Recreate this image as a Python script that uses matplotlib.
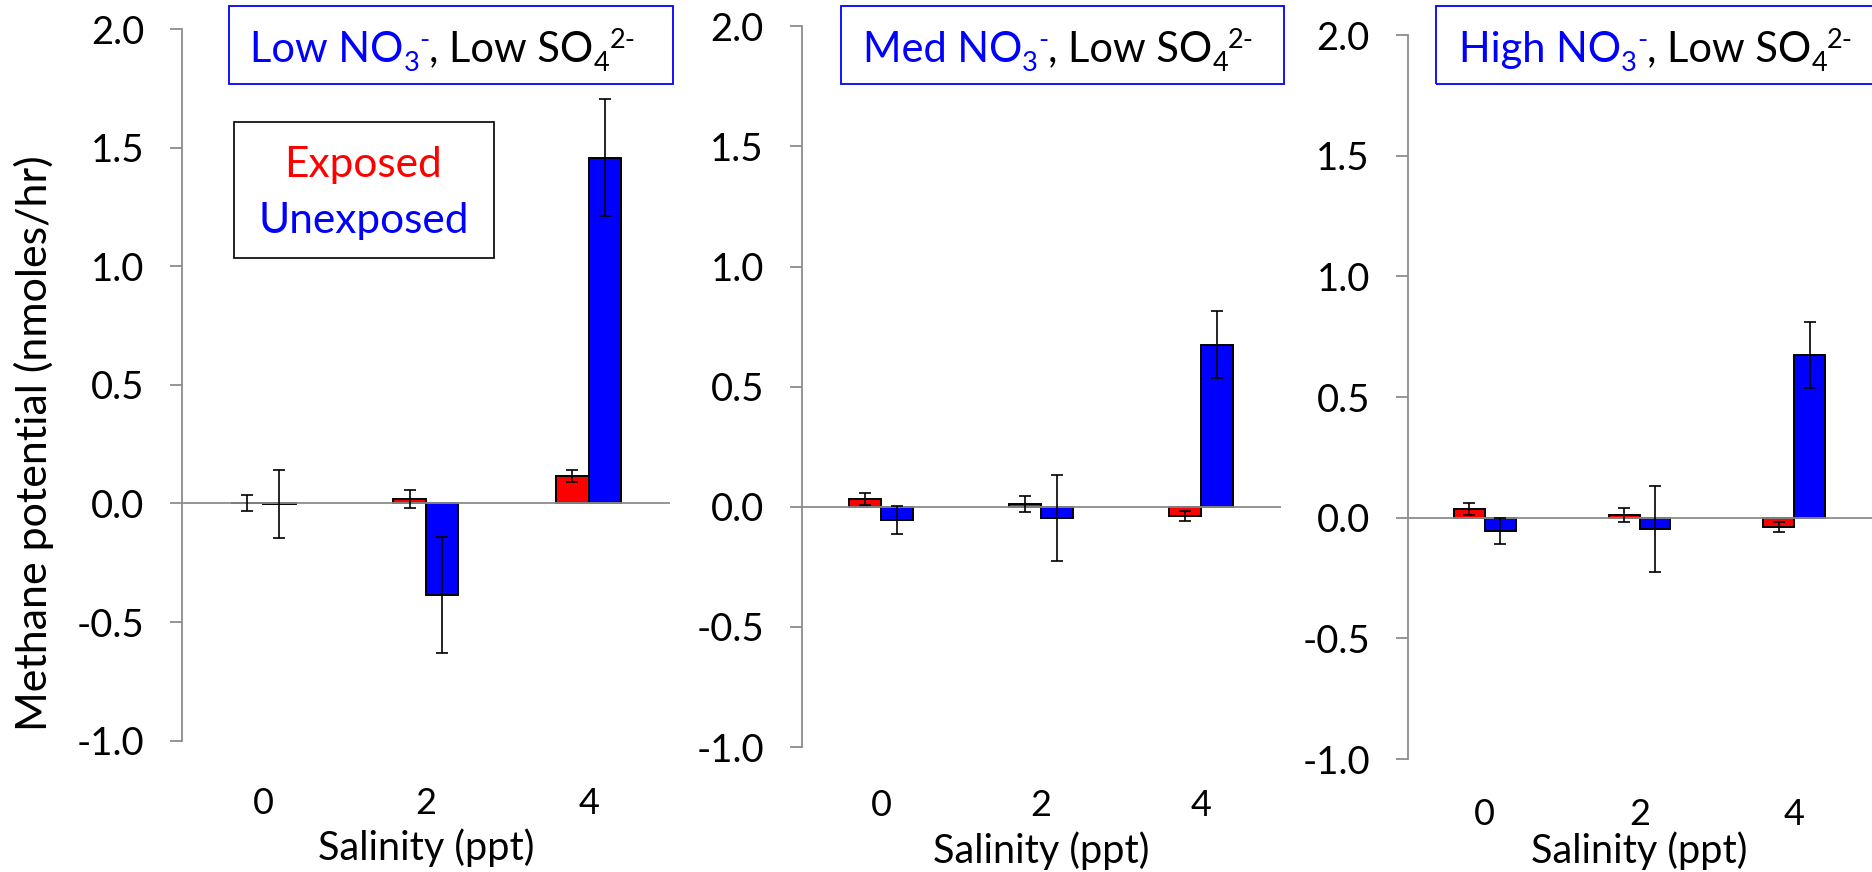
import matplotlib
matplotlib.use("Agg")
import matplotlib.pyplot as plt
from matplotlib.patches import Rectangle
import numpy as np

plt.rcParams['font.family'] = ['Lato', 'DejaVu Sans']
plt.rcParams['axes.unicode_minus'] = False

# methane potential (nmoles/hr) by salinity, mean and error
salinity = ['0', '2', '4']

low_exposed = [0.002, 0.018, 0.115]
low_exposed_err = [0.035, 0.038, 0.025]
low_unexposed = [-0.002, -0.386, 1.457]
low_unexposed_err = [0.145, 0.245, 0.247]

med_exposed = [0.032, 0.011, -0.039]
med_exposed_err = [0.026, 0.032, 0.022]
med_unexposed = [-0.055, -0.046, 0.674]
med_unexposed_err = [0.057, 0.178, 0.139]

high_exposed = [0.035, 0.011, -0.039]
high_exposed_err = [0.026, 0.031, 0.021]
high_unexposed = [-0.055, -0.046, 0.674]
high_unexposed_err = [0.054, 0.178, 0.138]

nitrate_levels = ['Low', 'Med', 'High']
series_names = ['Exposed', 'Unexposed']
y_ticks = [-1.0, -0.5, 0.0, 0.5, 1.0, 1.5, 2.0]

W, H = 1872, 872
RED = '#ff0000'
BLUE = '#0000ff'
GREY = '#8c8c8c'


def fx(x):
    return x / W


def fy(y):
    return 1 - y / H


def rich_title(fig, x, base, level, size):
    """Write 'Level NO3-, Low SO4 2-' piece by piece with sub/superscripts."""
    renderer = fig.canvas.get_renderer()
    pieces = [(level + ' NO', BLUE, 0), ('3', BLUE, -1), ('-', BLUE, 1),
              (', Low SO', 'black', 0), ('4', 'black', -1), ('2-', 'black', 1)]
    shift = {0: 0.0, -1: -0.22, 1: 0.33}
    for text, color, pos in pieces:
        fs = size if pos == 0 else size * 0.65
        dy = shift[pos] * size * 100 / 72
        t = fig.text(fx(x), fy(base - dy), text, color=color, fontsize=fs,
                     ha='left', va='baseline')
        x = t.get_window_extent(renderer).x1


fig = plt.figure(figsize=(W / 100, H / 100), dpi=100)

# axes rectangles in pixels: left, right, top, bottom
panels = [(181.7, 670.0, 29.0, 740.7),
          (801.5, 1281.0, 26.3, 747.0),
          (1407.5, 1871.5, 35.0, 759.0)]
tick_pads = [33, 30, 28]
label_y = [-0.168, -0.161, -0.144]
title_x = [250, 862.7, 1458.9]
title_boxes = [(229, 673.2), (841, 1283.8), (1435.9, 1900)]

data = [(low_exposed, low_exposed_err, low_unexposed, low_unexposed_err),
        (med_exposed, med_exposed_err, med_unexposed, med_unexposed_err),
        (high_exposed, high_exposed_err, high_unexposed, high_unexposed_err)]

x = np.arange(len(salinity))
width = 0.2

for i, (l, r, t, b) in enumerate(panels):
    ax = fig.add_axes([fx(l), fy(b), fx(r - l), (b - t) / H])
    exp, exp_err, unexp, unexp_err = data[i]

    ax.bar(x - width / 2, exp, width, color=RED, edgecolor='black',
           linewidth=1.4, zorder=2)
    ax.bar(x + width / 2, unexp, width, color=BLUE, edgecolor='black',
           linewidth=1.4, zorder=2)
    ax.errorbar(x - width / 2, exp, yerr=exp_err, fmt='none', ecolor='black',
                elinewidth=1.2, capsize=4.2, capthick=1.2, zorder=5)
    ax.errorbar(x + width / 2, unexp, yerr=unexp_err, fmt='none', ecolor='black',
                elinewidth=1.2, capsize=4.2, capthick=1.2, zorder=5)
    ax.axhline(0, color=GREY, linewidth=1.3, zorder=4)

    ax.set_xlim(-0.5, 2.5)
    ax.set_ylim(-1.0, 2.0)
    ax.set_yticks(y_ticks)
    ax.set_yticklabels([f'{v:.1f}' for v in y_ticks])
    ax.set_xticks(x)
    ax.set_xticklabels(salinity)

    for side in ['top', 'right', 'bottom']:
        ax.spines[side].set_visible(False)
    ax.spines['left'].set_color(GREY)
    ax.spines['left'].set_linewidth(1.3)
    ax.tick_params(axis='y', length=9, width=1.3, color=GREY, pad=18,
                   labelsize=27.5)
    ax.tick_params(axis='x', length=0, pad=tick_pads[i], labelsize=26)

    ax.set_xlabel('Salinity (ppt)', fontsize=28.5)
    ax.xaxis.label.set_va('baseline')
    ax.xaxis.set_label_coords(0.5, label_y[i])

    if i == 0:
        ax.set_ylabel('Methane potential (nmoles/hr)', fontsize=31,
                      ha='center', va='center')
        ax.yaxis.set_label_coords((34 - l) / (r - l), (b - 443.5) / (b - t))

    # title box
    bx0, bx1 = title_boxes[i]
    fig.add_artist(Rectangle((fx(bx0), fy(84.3)), fx(bx1 - bx0), (84.3 - 6.5) / H,
                             transform=fig.transFigure, fill=False,
                             edgecolor=BLUE, linewidth=1.3))
    rich_title(fig, title_x[i], 61.7, nitrate_levels[i], 30)

# legend box in the first panel
fig.add_artist(Rectangle((fx(233.5), fy(257.7)), fx(494.2 - 233.5), (257.7 - 122) / H,
                         transform=fig.transFigure, fill=False,
                         edgecolor='black', linewidth=1.2))
fig.text(fx(363.5), fy(176.7), series_names[0], color=RED, fontsize=30.5,
         ha='center', va='baseline')
fig.text(fx(363.5), fy(233.3), series_names[1], color=BLUE, fontsize=30.5,
         ha='center', va='baseline')

fig.savefig('out.png', dpi=100)
